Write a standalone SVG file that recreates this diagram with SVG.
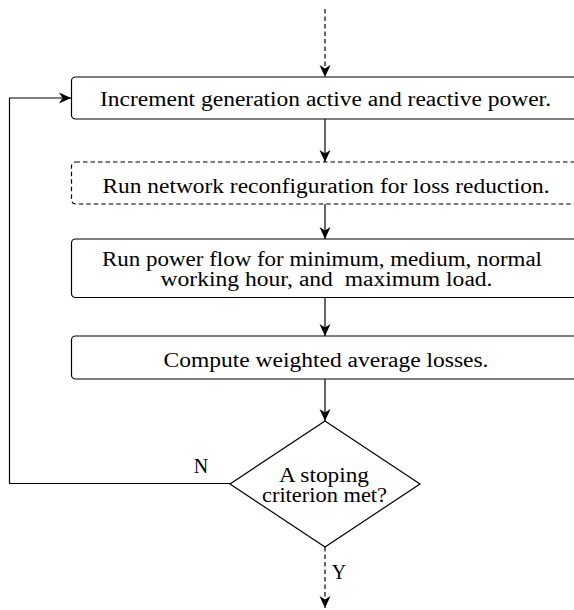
<svg xmlns="http://www.w3.org/2000/svg" width="574" height="610" viewBox="0 0 574 610">
<style>
.box{fill:#fff;stroke:#000;stroke-width:1.2}
.dash{stroke-dasharray:4.5 3}
.t{font-family:"Liberation Serif","Times New Roman",serif;font-size:20px;fill:#000;text-anchor:middle;white-space:pre}
.c{fill:none;stroke:#000;stroke-width:1.2}
</style>
<defs>
<marker id="ah" viewBox="-13 -6 14 12" markerWidth="14" markerHeight="12" refX="0" refY="0" orient="auto" markerUnits="userSpaceOnUse">
<path d="M0,0 L-12,-5.5 L-8.5,0 L-12,5.5 Z" fill="#000"/>
</marker>
</defs>
<rect width="574" height="610" fill="#fff"/>
<g id="connectors">
<line class="c dash" x1="325" y1="9" x2="325" y2="77" marker-end="url(#ah)"/>
<line class="c" x1="325" y1="119" x2="325" y2="162" marker-end="url(#ah)"/>
<line class="c" x1="325" y1="204" x2="325" y2="239" marker-end="url(#ah)"/>
<line class="c" x1="325" y1="297.5" x2="325" y2="336" marker-end="url(#ah)"/>
<line class="c" x1="325" y1="379" x2="325" y2="421" marker-end="url(#ah)"/>
<polyline class="c" points="230,483.5 9.5,483.5 9.5,98 71,98" marker-end="url(#ah)"/>
<line class="c dash" x1="325" y1="547" x2="325" y2="608" marker-end="url(#ah)"/>
<text class="t" x="201" y="473">N</text>
<text class="t" x="339" y="579">Y</text>
</g>
<g id="n1">
<rect class="box" x="71.5" y="77" width="540" height="42" rx="4"/>
<text class="t" x="325.5" y="106" textLength="451" lengthAdjust="spacingAndGlyphs">Increment generation active and reactive power.</text>
</g>
<g id="n2">
<rect class="box dash" x="71.5" y="162" width="540" height="42" rx="4"/>
<text class="t" x="326" y="192.5" textLength="447" lengthAdjust="spacingAndGlyphs">Run network reconfiguration for loss reduction.</text>
</g>
<g id="n3">
<rect class="box" x="71.5" y="239" width="540" height="58.5" rx="4"/>
<text class="t" x="322" y="265.5" textLength="440" lengthAdjust="spacingAndGlyphs">Run power flow for minimum, medium, normal</text>
<text class="t" x="326.5" y="285.5" textLength="332" lengthAdjust="spacingAndGlyphs">working hour, and  maximum load.</text>
</g>
<g id="n4">
<rect class="box" x="71.5" y="336" width="540" height="43" rx="4"/>
<text class="t" x="326" y="366.5" textLength="325" lengthAdjust="spacingAndGlyphs">Compute weighted average losses.</text>
</g>
<g id="n5">
<polygon class="box" points="325,421 420,484 325,547 230,484"/>
<text class="t" x="324" y="481.5" textLength="90" lengthAdjust="spacingAndGlyphs">A stoping</text>
<text class="t" x="324.5" y="501.5" textLength="125" lengthAdjust="spacingAndGlyphs">criterion met?</text>
</g>
</svg>
